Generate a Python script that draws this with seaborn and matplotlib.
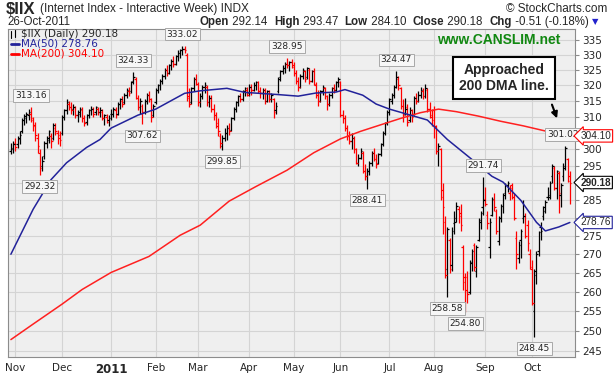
import numpy as np
import pandas as pd
import seaborn as sns
import matplotlib
matplotlib.use('Agg')
import matplotlib.pyplot as plt
from matplotlib.lines import Line2D
from matplotlib.ticker import NullLocator

# trading days shown on the chart (NYSE calendar)
holidays = ['2010-11-25', '2010-12-24', '2011-01-17', '2011-02-21',
            '2011-04-22', '2011-05-30', '2011-07-04', '2011-09-05']
dates = pd.bdate_range('2010-10-28', '2011-10-26', freq='C', holidays=holidays)

# daily bars
opens = [
    299.5, 300.0, 302.0, 301.5, 303.5, 305.5, 309.0, 309.5, 310.5, 311.0,
    309.0, 307.0, 303.5, 299.0, 295.0, 298.0, 302.0, 303.5, 304.0, 303.5,
    306.5, 305.0, 303.5, 305.0, 310.0, 312.0, 314.0, 313.0, 312.5, 313.0,
    310.5, 311.5, 312.0, 309.5, 308.5, 310.5, 312.0, 312.5, 311.5, 312.5,
    311.5, 311.5, 309.5, 310.0, 309.0, 311.0, 311.0, 312.0, 311.0, 314.0,
    315.0, 314.5, 317.0, 318.0, 318.0, 321.5, 322.0, 316.0, 313.0, 313.5,
    311.5, 315.0, 317.0, 315.5, 310.5, 314.5, 318.5, 320.0, 321.5, 323.0,
    325.0, 324.0, 326.5, 328.0, 327.0, 329.5, 330.5, 331.5, 332.0, 330.0,
    316.5, 314.5, 319.0, 322.0, 320.5, 314.5, 316.5, 319.5, 319.5, 314.5,
    316.0, 312.5, 310.5, 307.0, 304.0, 301.0, 303.5, 305.0, 306.5, 306.0,
    309.5, 312.5, 314.5, 316.5, 315.5, 318.0, 318.5, 317.5, 319.5, 318.5,
    320.0, 321.0, 318.0, 317.5, 318.5, 315.0, 318.0, 315.5, 315.5, 312.0,
    318.0, 322.5, 324.5, 325.5, 327.0, 326.5, 327.5, 326.5, 324.0, 321.5,
    319.5, 323.0, 324.5, 322.5, 325.0, 321.5, 324.5, 320.0, 317.0, 315.0,
    318.0, 319.0, 316.5, 314.0, 317.0, 319.0, 318.5, 321.0, 321.0, 310.5,
    309.5, 306.5, 304.0, 302.5, 303.5, 300.0, 296.0, 297.5, 299.0, 293.5,
    292.0, 293.5, 296.0, 299.0, 297.0, 296.0, 298.5, 301.5, 305.0, 308.0,
    311.5, 315.0, 317.0, 319.5, 322.0, 319.0, 313.5, 311.0, 313.0, 309.0,
    312.0, 311.0, 316.0, 315.0, 317.0, 318.0, 316.5, 318.5, 312.5, 310.0,
    312.0, 306.5, 299.5, 300.0, 288.0, 279.0, 266.0, 274.0, 267.0, 278.5,
    280.0, 282.5, 281.5, 272.0, 262.5, 264.0, 260.0, 267.5, 272.5, 265.5,
    274.0, 279.0, 283.0, 285.5, 281.0, 272.0, 281.0, 285.0, 282.0, 273.5,
    280.0, 283.5, 287.0, 289.5, 287.0, 289.5, 286.0, 274.5, 269.0, 274.0,
    280.0, 280.5, 278.0, 270.0, 266.0, 255.0, 264.5, 271.0, 277.5, 280.5,
    282.0, 286.0, 286.0, 292.0, 294.5, 288.5, 293.0, 286.5, 292.0, 295.0,
    297.0, 292.14]
highs = [
    302.0, 302.5, 303.5, 304.0, 305.5, 309.5, 311.0, 311.5, 312.5, 313.16,
    310.0, 308.5, 305.0, 300.0, 298.0, 302.5, 304.0, 306.0, 305.0, 308.0,
    308.0, 306.0, 305.5, 310.5, 312.5, 315.5, 315.0, 314.5, 314.0, 313.5,
    312.0, 313.0, 313.0, 310.5, 311.0, 312.5, 313.5, 313.0, 313.5, 313.0,
    313.0, 312.5, 311.0, 311.0, 310.5, 312.5, 313.0, 313.0, 314.5, 316.0,
    316.5, 317.5, 319.0, 319.5, 321.5, 324.33, 322.5, 317.0, 316.0, 314.0,
    315.5, 317.5, 318.0, 316.0, 314.0, 319.0, 320.5, 322.0, 323.5, 325.5,
    326.5, 327.0, 328.5, 329.5, 330.0, 331.5, 332.0, 333.02, 333.0, 330.5,
    319.0, 319.5, 322.5, 323.5, 321.0, 317.5, 320.0, 321.0, 320.0, 317.0,
    317.0, 314.0, 311.5, 309.5, 305.0, 304.5, 306.5, 307.5, 308.0, 310.0,
    313.0, 315.0, 317.0, 317.5, 318.5, 319.5, 319.5, 320.5, 320.5, 321.0,
    321.5, 321.5, 319.5, 319.0, 319.0, 318.5, 318.5, 317.5, 316.0, 314.5,
    322.5, 325.0, 326.5, 327.5, 328.95, 328.0, 328.5, 327.5, 325.0, 322.5,
    323.5, 325.5, 325.0, 326.0, 325.5, 325.0, 325.5, 321.0, 318.5, 318.5,
    320.0, 319.5, 317.0, 317.5, 319.5, 320.5, 321.5, 322.5, 321.5, 312.0,
    310.5, 307.5, 305.5, 305.0, 304.0, 300.5, 298.5, 300.5, 299.5, 295.5,
    294.5, 296.5, 299.5, 300.5, 298.5, 299.0, 302.0, 305.5, 308.5, 312.0,
    316.0, 317.5, 320.0, 324.47, 323.0, 319.5, 315.5, 316.0, 314.0, 313.0,
    312.5, 316.5, 317.5, 318.0, 319.5, 319.0, 320.5, 319.0, 314.5, 312.5,
    313.5, 307.5, 302.0, 300.5, 290.0, 280.5, 277.5, 274.5, 277.5, 282.0,
    284.5, 283.5, 284.0, 272.5, 265.0, 265.5, 268.5, 271.5, 273.0, 272.5,
    280.0, 282.0, 291.74, 289.0, 282.0, 280.0, 286.0, 287.0, 282.5, 280.5,
    284.0, 287.0, 290.0, 290.5, 289.5, 290.0, 287.0, 276.5, 273.5, 277.0,
    285.0, 281.5, 279.5, 271.5, 268.5, 266.0, 271.0, 276.5, 279.0, 283.5,
    285.0, 289.0, 290.5, 295.5, 295.0, 294.0, 293.5, 290.0, 296.0, 301.02,
    297.5, 293.47]
lows = [
    298.5, 299.0, 299.5, 300.5, 301.5, 305.0, 307.5, 308.0, 309.0, 308.5,
    305.5, 302.5, 299.0, 292.32, 293.5, 297.0, 300.5, 302.0, 300.5, 303.0,
    304.5, 301.5, 301.0, 304.5, 309.0, 311.0, 312.0, 311.0, 310.5, 309.5,
    308.5, 310.0, 308.5, 307.0, 307.5, 309.5, 310.5, 310.0, 310.5, 310.5,
    310.0, 309.0, 307.5, 308.0, 307.0, 309.0, 310.0, 309.5, 310.5, 312.5,
    313.0, 314.0, 316.0, 316.5, 317.5, 320.5, 315.5, 312.0, 311.0, 307.62,
    311.0, 314.0, 314.5, 308.5, 310.0, 314.0, 317.5, 318.5, 320.5, 322.0,
    323.0, 323.5, 325.0, 326.0, 326.5, 328.0, 329.0, 330.0, 330.5, 315.0,
    313.0, 314.0, 318.0, 320.0, 313.5, 313.0, 315.5, 317.5, 313.5, 313.0,
    311.5, 309.0, 306.5, 304.0, 300.5, 299.85, 302.5, 303.0, 304.5, 305.5,
    309.0, 311.5, 313.5, 314.5, 315.0, 316.5, 316.5, 316.5, 317.0, 318.0,
    318.5, 317.5, 316.0, 315.5, 314.0, 314.5, 314.5, 314.5, 309.5, 311.0,
    317.5, 321.5, 323.5, 324.0, 325.5, 324.5, 325.5, 323.0, 320.5, 318.0,
    319.0, 322.0, 321.0, 322.0, 320.5, 321.0, 320.0, 316.0, 313.5, 314.5,
    317.0, 315.5, 312.0, 313.5, 316.0, 317.5, 318.0, 319.5, 310.0, 308.0,
    305.5, 303.0, 301.5, 300.0, 299.0, 295.5, 295.0, 297.0, 293.0, 291.0,
    288.41, 292.5, 295.0, 296.5, 294.5, 295.5, 298.0, 301.0, 304.5, 307.5,
    310.5, 314.0, 316.0, 319.0, 318.5, 312.5, 308.5, 310.5, 307.0, 308.5,
    308.5, 310.5, 314.0, 314.5, 316.0, 315.5, 316.0, 311.5, 309.5, 307.0,
    303.5, 298.5, 295.0, 285.0, 275.5, 263.5, 258.58, 265.0, 265.5, 275.5,
    279.0, 278.5, 276.5, 260.5, 254.80, 257.0, 259.5, 265.5, 265.5, 264.0,
    273.5, 277.0, 281.0, 283.5, 277.0, 269.0, 280.5, 282.0, 275.5, 272.5,
    279.0, 281.5, 285.5, 287.5, 285.0, 285.5, 279.5, 266.0, 267.5, 269.0,
    278.5, 274.5, 271.0, 266.0, 256.5, 248.45, 262.0, 269.5, 274.0, 279.5,
    281.5, 285.0, 285.5, 290.0, 288.0, 285.5, 281.5, 283.0, 290.5, 294.0,
    290.2, 284.10]
closes = [
    300.5, 301.5, 300.8, 303.2, 304.5, 309.0, 310.2, 310.8, 311.5, 309.5,
    307.5, 304.5, 301.0, 294.5, 296.5, 302.0, 303.0, 305.5, 302.5, 307.5,
    305.5, 304.5, 303.0, 310.0, 312.0, 314.5, 313.0, 312.0, 313.0, 310.5,
    311.0, 312.5, 309.5, 308.0, 310.5, 312.0, 312.5, 311.0, 313.0, 311.5,
    312.0, 309.5, 310.5, 308.5, 309.5, 311.0, 312.5, 310.5, 314.0, 315.5,
    314.0, 317.0, 318.5, 317.5, 321.0, 322.5, 316.0, 313.0, 315.0, 311.5,
    315.0, 317.0, 315.5, 310.0, 313.5, 318.5, 320.0, 321.5, 323.0, 325.0,
    324.0, 326.5, 328.0, 327.0, 329.5, 330.5, 331.5, 332.0, 331.5, 316.0,
    314.0, 319.0, 322.0, 320.5, 314.5, 316.5, 319.5, 320.0, 314.5, 316.0,
    312.5, 310.5, 308.0, 305.5, 302.0, 303.5, 305.0, 306.5, 305.5, 309.5,
    312.5, 314.5, 316.5, 315.5, 318.0, 319.0, 317.0, 319.5, 318.5, 320.0,
    321.0, 318.0, 317.5, 318.5, 315.0, 318.0, 315.5, 317.0, 311.5, 313.5,
    322.0, 324.5, 325.5, 327.0, 326.5, 327.5, 326.0, 324.0, 321.5, 319.5,
    323.0, 325.0, 322.0, 325.5, 321.5, 324.5, 320.5, 317.0, 315.0, 318.0,
    319.5, 316.5, 314.0, 317.0, 319.0, 318.5, 321.0, 322.0, 310.5, 309.5,
    306.5, 304.0, 302.5, 303.5, 300.0, 296.0, 297.5, 299.5, 293.5, 292.0,
    293.5, 296.0, 299.0, 297.0, 295.5, 298.5, 301.5, 305.0, 308.0, 311.5,
    315.5, 317.0, 319.5, 322.5, 320.0, 313.5, 310.5, 312.5, 308.5, 312.0,
    310.0, 316.0, 315.0, 317.0, 318.5, 316.5, 319.0, 312.5, 310.5, 309.0,
    307.0, 299.5, 301.0, 286.0, 283.0, 264.5, 277.0, 266.0, 276.5, 279.0,
    283.5, 280.5, 278.0, 264.0, 260.5, 259.5, 268.0, 271.0, 266.5, 272.0,
    279.5, 281.5, 285.0, 284.0, 278.5, 279.0, 285.5, 283.0, 276.5, 280.0,
    283.5, 286.5, 289.5, 290.0, 288.5, 286.0, 280.0, 270.0, 272.5, 276.5,
    280.5, 275.0, 273.0, 266.5, 257.0, 265.5, 270.0, 276.0, 276.5, 283.0,
    284.5, 286.5, 290.0, 295.0, 288.5, 293.5, 287.0, 289.5, 294.5, 300.5,
    290.69, 290.18]

# moving averages (bar index, value)
ma50_idx = [0, 10, 18, 25, 34, 40, 45, 57, 65, 78, 85, 97, 105, 120, 129, 137,
            146, 150, 158, 164, 170, 187, 196, 207, 216, 221, 229, 236, 240, 246, 251]
ma50_val = [270.0, 282.5, 291.0, 296.0, 300.6, 303.0, 306.5, 310.5, 312.4, 317.4,
            318.2, 319.0, 317.7, 317.0, 316.5, 317.5, 317.8, 318.6, 316.8, 314.0,
            312.4, 309.0, 303.0, 297.0, 292.0, 290.3, 285.0, 278.8, 276.4, 277.5, 278.76]
ma200_idx = [0, 10, 23, 32, 45, 62, 76, 85, 98, 110, 124, 136, 148, 157, 166,
             175, 184, 192, 200, 210, 220, 230, 240, 251]
ma200_val = [247.8, 251.7, 256.8, 260.6, 265.1, 269.4, 275.2, 278.0, 284.8, 289.0,
             293.8, 299.0, 303.2, 305.5, 307.5, 309.5, 311.3, 312.4, 311.6, 310.2,
             308.6, 307.2, 305.6, 304.1]

y_ticks = list(range(245, 340, 5))
# these tick labels sit under the last-value tags in the reference
hidden_ticks = [280, 290, 305]

# labelled highs and lows: (bar index, above the bar?)
callouts = [(9, True), (13, False), (55, True), (59, False), (77, True),
            (95, False), (124, True), (160, False), (173, True), (196, False),
            (204, False), (212, True), (235, False), (249, True)]

W, H = 614, 378
sns.set_style('whitegrid', {'axes.facecolor': '#efefef', 'grid.color': '#d4d4d4',
                            'axes.edgecolor': '#8c8c8c'})
plt.rcParams['font.family'] = ['DejaVu Sans']
hf = 'Liberation Sans'

fig = plt.figure(figsize=(W / 100, H / 100), dpi=100)
ax = fig.add_axes([8 / W, 1 - 357 / H, 567 / W, 328 / H])

idx = np.arange(len(dates))
colors = ['black'] + ['#ff0000' if c < p else 'black'
                      for p, c in zip(closes[:-1], closes[1:])]

# OHLC bars
ax.vlines(idx, lows, highs, colors=colors, lw=0.9, zorder=3)
ax.hlines(opens, idx - 0.7, idx, colors=colors, lw=0.9, zorder=3)
ax.hlines(closes, idx, idx + 0.7, colors=colors, lw=0.9, zorder=3)

sns.lineplot(x=ma200_idx, y=ma200_val, color='#ff2020', lw=1.1, ax=ax, zorder=4)
sns.lineplot(x=ma50_idx, y=ma50_val, color='#22229a', lw=1.1, ax=ax, zorder=4)

ax.set_yscale('log')
ax.set_ylim(243.5, 338.6)
ax.set_xlim(-1.3, 253.3)
ax.set_yticks(y_ticks, labels=['' if v in hidden_ticks else str(v) for v in y_ticks])
ax.yaxis.set_minor_locator(NullLocator())
ax.yaxis.tick_right()
ax.tick_params(axis='y', labelsize=7.5, length=3, width=0.8, color='#8c8c8c', pad=2)

# month gridlines / labels
month_pos, month_lab = [], []
for i in range(1, len(dates)):
    if dates[i].month != dates[i - 1].month:
        month_pos.append(i)
        month_lab.append('2011' if dates[i].month == 1 else dates[i].strftime('%b'))
ax.set_xticks(month_pos, labels=month_lab)
ax.tick_params(axis='x', labelsize=7.5, length=0, pad=4)
for lab in ax.get_xticklabels():
    if lab.get_text() == '2011':
        lab.set_fontweight('bold')
        lab.set_fontsize(8.5)
ax.grid(True, lw=0.8)
ax.set_xlabel('')
ax.set_ylabel('')
for s in ax.spines.values():
    s.set_linewidth(0.8)

# callout boxes for highs and lows
box = dict(boxstyle='square,pad=0.2', fc='#f7f7f7', ec='#a8a8a8', lw=0.7)
for i, up in callouts:
    v = highs[i] if up else lows[i]
    dx = -2 if i == 249 else 0
    ax.annotate(f'{v:.2f}', xy=(i, v), xytext=(dx, 5 if up else -5),
                textcoords='offset points', ha='center',
                va='bottom' if up else 'top', fontsize=6.5, bbox=box,
                zorder=5, annotation_clip=False)

# last-value tags on the price axis
tags = [(ma200_val[-1], '#ff0000', 'normal'), (closes[-1], 'black', 'bold'),
        (ma50_val[-1], '#22229a', 'normal')]
for v, ec, fw in tags:
    ax.annotate(f'{v:.2f}', xy=(1, v), xycoords=('axes fraction', 'data'),
                xytext=(4, 0), textcoords='offset points', ha='left', va='center',
                fontsize=7.2, fontweight=fw, family=hf,
                bbox=dict(boxstyle='larrow,pad=0.12', fc='white', ec=ec, lw=0.8),
                zorder=6, annotation_clip=False)

# legend in the top left corner
fig.add_artist(Line2D([11 / W, 11 / W], [1 - 31 / H, 1 - 38 / H], color='black', lw=0.8))
fig.add_artist(Line2D([15 / W, 15 / W], [1 - 30 / H, 1 - 37 / H], color='black', lw=0.8))
fig.text(21 / W, 1 - 34 / H, r'\$IIX (Daily) 290.18', fontsize=7.5, va='center')
fig.add_artist(Line2D([11 / W, 19 / W], [1 - 44 / H] * 2, color='#22229a', lw=2))
fig.text(21 / W, 1 - 44 / H, f'MA(50) {ma50_val[-1]:.2f}', fontsize=7.5,
         va='center', color='#22229a')
fig.add_artist(Line2D([11 / W, 19 / W], [1 - 54 / H] * 2, color='#ff0000', lw=2))
fig.text(21 / W, 1 - 54 / H, f'MA(200) {ma200_val[-1]:.2f}', fontsize=7.5,
         va='center', color='#ff0000')

# header
fig.text(6 / W, 1 - 9 / H, r'\$IIX', fontsize=12, fontweight='bold', va='center', family=hf)
fig.text(40 / W, 1 - 9 / H, '(Internet Index - Interactive Week) INDX', fontsize=8.5,
         va='center', family=hf)
fig.text(607 / W, 1 - 9 / H, '\u00a9 StockCharts.com', fontsize=8.5, va='center',
         ha='right', family=hf)
fig.text(7 / W, 1 - 22 / H, '26-Oct-2011', fontsize=8.3, va='center', family=hf)
hdr = [('Open', True), (' 292.14  ', False), ('High', True), (' 293.47  ', False),
       ('Low', True), (' 284.10  ', False), ('Close', True), (' 290.18  ', False),
       ('Chg', True), (' -0.51 (-0.18%) ', False)]
renderer = fig.canvas.get_renderer()
x = 200
for txt, bold in hdr:
    t = fig.text(x / W, 1 - 22 / H, txt, fontsize=8.3, va='center', family=hf,
                 fontweight='bold' if bold else 'normal')
    x += t.get_window_extent(renderer).width
fig.text(x / W, 1 - 22 / H, '\u25bc', fontsize=6, va='center', color='#2222cc')

fig.text(499 / W, 1 - 40 / H, 'www.CANSLIM.net', fontsize=10, fontweight='bold',
         color='#118811', ha='center', va='center', family=hf)

# note box and arrow
fig.text(504 / W, 1 - 78 / H, 'Approached\n200 DMA line.', fontsize=10,
         fontweight='bold', ha='center', va='center', linespacing=1.15, family=hf,
         bbox=dict(boxstyle='square,pad=0.45', fc='white', ec='black', lw=1.5))
ax.annotate('', xy=(558 / W, 1 - 121 / H), xycoords='figure fraction',
            xytext=(551 / W, 1 - 102 / H), textcoords='figure fraction',
            arrowprops=dict(arrowstyle='-|>', color='black', lw=1.5, mutation_scale=9))

fig.savefig('out.png', dpi=100, facecolor='white')
